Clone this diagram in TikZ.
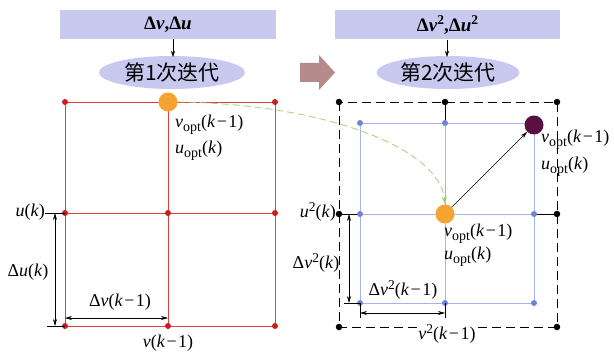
\documentclass[tikz,border=0pt]{standalone}
\usepackage{fontspec}
\setmainfont{Liberation Serif}
\newfontfamily\cjk{Noto Sans CJK SC}
\usetikzlibrary{arrows.meta,shapes.geometric}
\definecolor{lav}{HTML}{C9C9F0}
\definecolor{gred}{HTML}{DC4040}
\definecolor{dred}{HTML}{C81E1E}
\definecolor{lblue}{HTML}{A6B4EA}
\definecolor{dblue}{HTML}{6E84D4}
\definecolor{orng}{HTML}{F5A332}
\definecolor{purp}{HTML}{5A1040}
\definecolor{gdash}{HTML}{A8CC70}
\definecolor{brw}{HTML}{B48A8A}
\newcommand{\myv}{\textit{v}}
\newcommand{\myu}{\textit{u}}
\newcommand{\myk}{\textit{k}}
\newcommand{\opt}{\raisebox{-4pt}{\fontsize{14}{15}\selectfont opt}}
\newcommand{\sqr}{\raisebox{6.5pt}{\fontsize{13.5}{14}\selectfont 2}}
\newcommand{\kmo}{(\myk\kern1.5pt−\kern1.5pt1)}
\tikzset{
  topbox/.style={fill=lav,draw=none,minimum height=29pt,inner sep=0pt,font=\bfseries\fontsize{19}{22}\selectfont},
  iter/.style={ellipse,fill=lav,draw=none,minimum width=146pt,minimum height=33pt,inner sep=0pt,font=\cjk\fontsize{21}{24}\selectfont},
  lbl/.style={inner sep=0pt,font=\fontsize{18}{21}\selectfont},
  rdot/.style={circle,fill=dred,inner sep=0pt,minimum size=6pt},
  bdot/.style={circle,fill=dblue,inner sep=0pt,minimum size=6pt},
  kdot/.style={circle,fill=black,inner sep=0pt,minimum size=6.5pt},
  bigdot/.style={circle,inner sep=0pt,minimum size=19pt},
  dim/.style={{Stealth[length=7pt,width=4pt]}-{Stealth[length=7pt,width=4pt]},line width=0.6pt},
  tick/.style={line width=0.6pt},
  outer/.style={dash pattern=on 9pt off 5pt,line width=0.8pt},
}
\begin{document}
\begin{tikzpicture}[x=1pt,y=-1pt]
\useasboundingbox (0,0) rectangle (614,353);
% ---------- left panel ----------
\node[topbox,minimum width=216pt] (b1) at (168,24.5) {Δ\myv,Δ\myu};
\node[iter] (e1) at (172,72.5) {第1次迭代};
\draw[-{Stealth[length=6pt,width=4pt]},line width=0.6pt] (b1.south -| 173,0) -- (173,57);
% grid
\foreach \i/\x in {0/65,1/168,2/275}{
  \foreach \j/\y in {0/102,1/213,2/326}{
    \coordinate (L\i\j) at (\x,\y);
  }
}
\draw[gred,line width=0.7pt] (L00) rectangle (L22);
\draw[gred,line width=0.7pt] (L10) -- (L12) (L01) -- (L21);
\foreach \i in {0,1,2}{\foreach \j in {0,1,2}{\node[rdot] (LD\i\j) at (L\i\j) {};}}
\node[bigdot,fill=orng] (O1) at (L10) {};
\node[lbl,anchor=west] (vo1) at (175,125) {\myv\opt\kmo};
\node[lbl,anchor=west] (uo1) at (175,151) {\myu\opt(\myk)};
% dimensions left
\coordinate (ut) at (45,213);
\coordinate (bt) at (47,326);
\draw[tick] (ut) -- (L01);
\draw[tick] (bt) -- (L02);
\coordinate (da1) at (55,213);
\coordinate (da2) at (55,326);
\draw[dim] (da1) -- (da2);
\coordinate (dv1) at (65,318);
\coordinate (dv2) at (168,318);
\draw[dim] (dv1) -- (dv2);
\node[lbl,anchor=east] (uk) at (45,212) {\myu(\myk)};
\node[lbl] (duk) at (28,272) {Δ\myu(\myk)};
\node[lbl] (dvk) at (120,302) {Δ\myv\kmo};
\node[lbl] (vk) at (168,343) {\myv\kmo};
% ---------- middle arrow ----------
\fill[brw] (300,63) -- (319,63) -- (319,55) -- (335,72.5) -- (319,90) -- (319,82) -- (300,82) -- cycle;
% ---------- right panel ----------
\node[topbox,minimum width=225pt] (b2) at (447.5,25) {Δ\myv\sqr,Δ\myu\sqr};
\node[iter,minimum width=143pt] (e2) at (448,72.5) {第2次迭代};
\draw[-{Stealth[length=6pt,width=4pt]},line width=0.6pt] (b2.south -| 447,0) -- (447,57);
\foreach \i/\x in {0/339,1/445,2/557}{
  \foreach \j/\y in {0/102,1/214,2/327}{
    \coordinate (K\i\j) at (\x,\y);
  }
}
\foreach \i/\x in {0/360,1/445,2/534}{
  \foreach \j/\y in {0/123,1/214,2/303}{
    \coordinate (B\i\j) at (\x,\y);
  }
}
% blue grid
\draw[lblue,line width=0.8pt] (B00) rectangle (B22);
\draw[lblue,line width=0.8pt] (B10) -- (B12) (B01) -- (B21);
% outer dashed square
\draw[outer] (K00) rectangle (K22);
% ticks
\draw[tick] (K10) -- (B10);
\draw[tick] (K01) -- (B01);
\draw[tick] (B21) -- (K21);
\foreach \p in {00,10,20,01,21,02,22}{\node[kdot] (KD\p) at (K\p) {};}
\foreach \i in {0,1,2}{\foreach \j in {0,1,2}{\node[bdot] (BD\i\j) at (B\i\j) {};}}
% dimensions right
\coordinate (rt) at (344,303);
\draw[tick] (rt) -- (B02);
\coordinate (ra1) at (349,214);
\coordinate (ra2) at (349,303);
\draw[dim] (ra1) -- (ra2);
\coordinate (x1) at (360,318);
\coordinate (x2) at (445,318);
\draw[tick] (B02) -- (x1);
\draw[tick] (B12) -- (x2);
\coordinate (rv1) at (360,313);
\coordinate (rv2) at (445,313);
\draw[dim] (rv1) -- (rv2);
\node[lbl,anchor=east] (u2k) at (336,212) {\myu\sqr(\myk)};
\node[lbl] (du2k) at (316,263) {Δ\myv\sqr(\myk)};
\node[lbl] (dv2k) at (403,290) {Δ\myv\sqr\kmo};
\node[lbl,fill=white,inner xsep=1pt] (v2k) at (447,334) {\myv\sqr\kmo};
% big dots
\node[bigdot,fill=orng] (O2) at (B11) {};
\node[bigdot,fill=purp] (P2) at (534,125) {};
\node[lbl,anchor=west] (vo2) at (444,234) {\myv\opt\kmo};
\node[lbl,anchor=west] (uo2) at (444,257) {\myu\opt(\myk)};
\node[lbl,anchor=west] (vo3) at (541,140) {\myv\opt\kmo};
\node[lbl,anchor=west] (uo3) at (541,167) {\myu\opt(\myk)};
% connectors
\draw[-{Stealth[length=7pt,width=4pt]},line width=0.6pt] (O2) -- (P2);
\draw[gdash,dash pattern=on 7pt off 4pt,line width=0.8pt,-{Stealth[length=8pt,width=5pt]}]
  (O1.east) .. controls (330,104) and (440,150) .. (O2.north);
\end{tikzpicture}
\end{document}
